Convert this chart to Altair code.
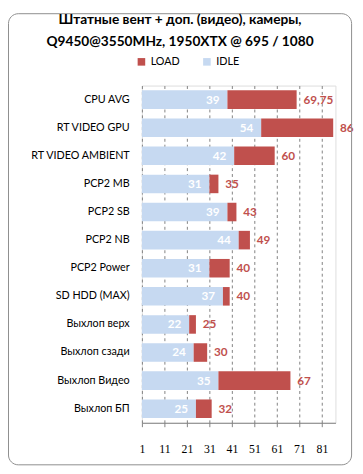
import altair as alt
import pandas as pd

categories = ["CPU AVG", "RT VIDEO  GPU", "RT VIDEO  AMBIENT", "PCP2 MB", "PCP2 SB",
              "PCP2 NB", "PCP2 Power", "SD HDD (MAX)", "Выхлоп верх", "Выхлоп сзади",
              "Выхлоп Видео", "Выхлоп БП"]
idle = [39, 54, 42, 31, 39, 44, 31, 37, 22, 24, 35, 25]
load = [69.75, 86, 60, 35, 43, 49, 40, 40, 25, 30, 67, 32]
ticks = [1, 11, 21, 31, 41, 51, 61, 71, 81]
x_min, x_max = 1, 87

rows = []
for c, i, l in zip(categories, idle, load):
    rows.append({"cat": c, "series": "IDLE", "start": x_min, "end": i,
                 "label": str(i)})
    rows.append({"cat": c, "series": "LOAD", "start": i, "end": l,
                 "label": (str(l).replace(".", ",") if l % 1 else str(int(l)))})
df = pd.DataFrame(rows)

FONT = "Lato"
RED = "#C0504D"
BLUE = "#C6D9F1"

y_axis = alt.Axis(domain=False, ticks=False, labelPadding=13,
                  labelFont=FONT, labelFontSize=11, labelColor="#000")
y_scale = alt.Scale(paddingInner=0.34, paddingOuter=0.17)
x_scale = alt.Scale(domain=[x_min, x_max], nice=False, zero=False)
x_axis = alt.Axis(values=ticks, grid=True, gridDash=[3, 3], gridColor="#808080",
                  domainColor="#808080", tickColor="#808080", tickSize=4,
                  labelOverlap=False, labelFlush=False,
                  labelPadding=17, labelFont="Liberation Serif", labelFontSize=12,
                  labelColor="#000")


def Y():
    return alt.Y("cat:N", sort=categories, title=None, scale=y_scale, axis=y_axis)


bars = alt.Chart(df).mark_bar().encode(
    y=Y(),
    x=alt.X("start:Q", scale=x_scale, title=None, axis=x_axis),
    x2="end:Q",
    color=alt.Color("series:N",
                    scale=alt.Scale(domain=["LOAD", "IDLE"], range=[RED, BLUE]),
                    legend=alt.Legend(title=None, orient="none", direction="horizontal",
                                      legendX=-6, legendY=-30, symbolType="square",
                                      symbolSize=60, symbolStrokeWidth=0,
                                      labelFont=FONT, labelFontSize=11,
                                      columnPadding=22, labelOffset=4)),
)

idle_text = alt.Chart(df).transform_filter(alt.datum.series == "IDLE").mark_text(
    align="right", baseline="middle", dx=-8, color="white", fontWeight="bold",
    font=FONT, fontSize=12).encode(
    y=Y(), x=alt.X("end:Q", scale=x_scale, title=None, axis=x_axis), text="label:N")

load_text = alt.Chart(df).transform_filter(alt.datum.series == "LOAD").mark_text(
    align="left", baseline="middle", dx=7, color=RED, fontWeight="bold",
    font=FONT, fontSize=12).encode(
    y=Y(), x=alt.X("end:Q", scale=x_scale, title=None, axis=x_axis), text="label:N")

frame = alt.Chart(pd.DataFrame({"k": [0]})).mark_rect(
    fill=None, stroke="#8c8c8c", strokeWidth=1, cornerRadius=10).encode(
    x=alt.value(-136.5), x2=alt.value(214.5), y=alt.value(-73.5), y2=alt.value(388))

chart = alt.layer(bars, idle_text, load_text, frame).properties(
    width=198, height=345,
    autosize=alt.AutoSizeParams(type="none"),
    padding={"left": 137, "top": 74, "right": 20, "bottom": 45},
    title=alt.TitleParams(
        text=["Штатные вент + доп. (видео), камеры,", "Q9450@3550MHz, 1950XTX @ 695 / 1080"],
        font=FONT, fontSize=14, fontWeight="bold", color="#000", anchor="middle",
        frame="group", dx=-60, offset=0, dy=37, lineHeight=23),
).configure_view(stroke=None).configure(background="white")

chart.save("out.html", embed_options={"renderer": "svg", "actions": False})
